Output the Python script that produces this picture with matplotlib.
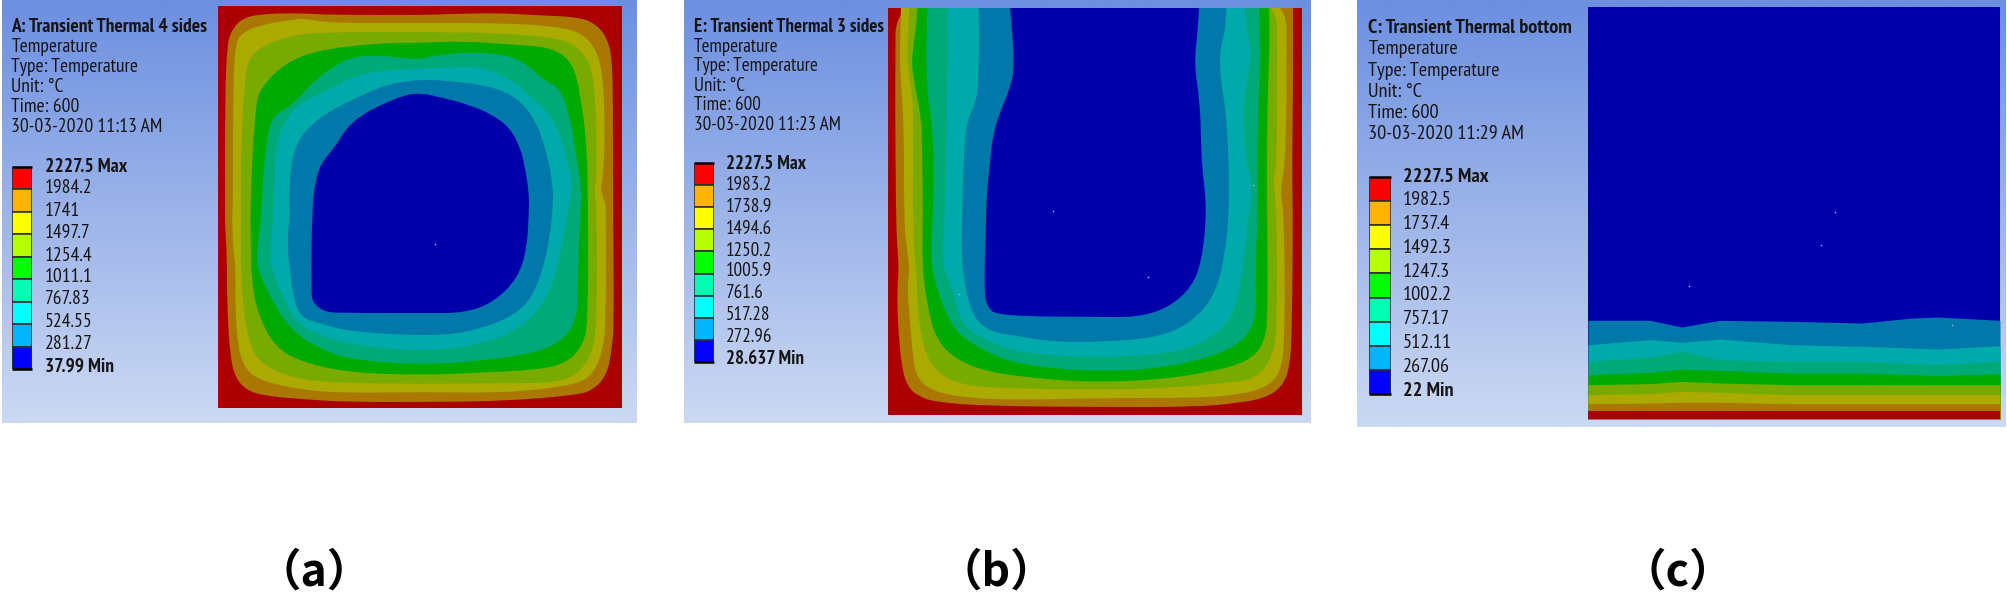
import numpy as np
import matplotlib
matplotlib.use("Agg")
import matplotlib.pyplot as plt
from matplotlib.path import Path
from matplotlib.patches import PathPatch

W, H = 2008, 598

# band colours on the model, outside to inside
band_colors = ['#aa0000', '#aa7800', '#aaaa00', '#78aa00', '#00aa00', '#00aa78', '#00aaaa', '#0078aa', '#0000aa']
# legend colours, top to bottom
legend_colors = ['#ff0000', '#ffb400', '#ffff00', '#b4ff00', '#00ff00', '#00ffb4', '#00ffff', '#00b4ff', '#0000ff']

labels_a = ['2227.5 Max', '1984.2', '1741', '1497.7', '1254.4', '1011.1', '767.83', '524.55', '281.27', '37.99 Min']
labels_b = ['2227.5 Max', '1983.2', '1738.9', '1494.6', '1250.2', '1005.9', '761.6', '517.28', '272.96', '28.637 Min']
labels_c = ['2227.5 Max', '1982.5', '1737.4', '1492.3', '1247.3', '1002.2', '757.17', '512.11', '267.06', '22 Min']

header_a = ['A: Transient Thermal 4 sides', 'Temperature', 'Type: Temperature', 'Unit: °C', 'Time: 600', '30-03-2020 11:13 AM']
header_b = ['E: Transient Thermal 3 sides', 'Temperature', 'Type: Temperature', 'Unit: °C', 'Time: 600', '30-03-2020 11:23 AM']
header_c = ['C: Transient Thermal bottom', 'Temperature', 'Type: Temperature', 'Unit: °C', 'Time: 600', '30-03-2020 11:29 AM']

captions = ['（a）', '（b）', '（c）']

# isotherm outlines, one closed outline per band
iso_a = [
    [(225,100),(225,210),(225,225),(227,258),(227,305),(230,355),(235,377),(246,390),(265,396),(301,399),(345,402),(428,402),(507,401),(577,395),(593,390),(607,375),(612,348),(614,322),(613,210),(613,100),(612,57),(607,38),(597,25),(580,17),(530,15),(500,13),(448,14),(428,15),(331,15),(298,13),(261,14),(243,18),(233,28),(227,43)],
    [(233,100),(233,210),(232,218),(233,248),(236,270),(235,305),(238,348),(245,368),(258,380),(301,390),(345,393),(420,392),(507,393),(577,385),(595,372),(603,348),(606,322),(606,205),(605,203),(600,187),(603,180),(605,133),(603,73),(595,47),(580,32),(553,26),(500,23),(420,23),(328,23),(308,19),(295,19),(261,25),(243,32),(235,43)],
    [(241,140),(241,210),(241,238),(241,272),(243,305),(250,348),(265,367),(301,380),(345,383),(420,384),(507,383),(553,383),(577,375),(592,355),(597,322),(597,210),(594,190),(596,180),(597,167),(595,77),(583,50),(560,38),(500,33),(428,32),(318,32),(285,37),(255,50),(246,67),(245,83)],
    [(250,210),(251,238),(251,278),(258,315),(275,347),(301,362),(351,373),(428,375),(470,373),(537,370),(567,363),(583,345),(588,322),(588,210),(587,143),(580,93),(573,63),(553,48),(520,45),(460,41),(420,43),(378,43),(318,50),(285,63),(261,87),(255,107)],
    [(261,210),(261,222),(256,255),(258,272),(278,312),(295,333),(318,348),(351,360),(428,365),(487,360),(540,352),(567,337),(577,315),(577,295),(580,210),(582,193),(577,160),(570,117),(560,88),(543,80),(530,67),(510,55),(470,52),(437,55),(420,59),(411,59),(378,55),(351,57),(331,68),(315,80),(290,107),(273,115),(266,140)],
    [(273,210),(273,222),(270,252),(271,268),(281,292),(295,322),(318,335),(351,345),(428,352),(487,343),(520,328),(543,305),(557,272),(568,210),(573,183),(567,160),(560,133),(547,110),(530,97),(513,80),(480,66),(447,68),(420,68),(378,71),(351,77),(325,92),(298,103),(281,127),(275,153)],
    [(289,210),(290,215),(287,242),(290,272),(293,295),(300,317),(318,323),(351,332),(428,336),(470,332),(510,318),(533,298),(547,255),(553,210),(553,187),(548,157),(537,123),(520,100),(497,88),(463,82),(420,79),(385,85),(358,97),(328,112),(311,125),(298,140),(290,167)],
    [(312,210),(311,292),(313,303),(325,312),(341,313),(428,313),(463,313),(493,303),(518,278),(527,248),(529,210),(529,193),(525,167),(520,147),(510,128),(493,115),(470,105),(440,97),(420,93),(405,95),(385,103),(361,115),(345,130),(335,147),(321,163),(315,183)],
]

# panel b outlines are open at the top edge
iso_b = [
    [(896,8),(895,97),(896,215),(897,243),(899,270),(897,290),(898,327),(902,370),(908,387),(918,396),(935,402),(985,406),(1100,407),(1195,407),(1238,403),(1265,398),(1282,387),(1290,367),(1292,327),(1293,210),(1292,177),(1293,90),(1293,33),(1293,8)],
    [(902,8),(900,47),(900,67),(902,97),(904,133),(904,215),(906,243),(910,270),(907,287),(910,320),(913,360),(918,380),(935,392),(968,398),(1018,400),(1100,398),(1195,398),(1238,395),(1268,387),(1282,370),(1285,327),(1284,215),(1280,190),(1285,167),(1287,83),(1286,8)],
    [(911,8),(908,33),(907,63),(913,97),(913,133),(913,215),(914,250),(917,277),(917,303),(922,343),(932,367),(952,382),(985,388),(1100,390),(1172,388),(1222,383),(1255,380),(1273,357),(1277,327),(1277,210),(1273,180),(1277,163),(1277,83),(1277,8)],
    [(919,8),(917,23),(911,60),(915,87),(921,117),(922,140),(923,215),(922,267),(927,303),(935,337),(952,357),(985,372),(1052,380),(1100,382),(1155,380),(1205,373),(1248,362),(1265,343),(1268,310),(1267,210),(1267,133),(1268,83),(1270,40),(1268,8)],
    [(930,8),(926,33),(927,93),(932,123),(934,167),(933,215),(930,260),(938,293),(948,317),(957,333),(982,350),(1018,365),(1100,372),(1172,367),(1222,353),(1248,337),(1257,310),(1255,277),(1258,210),(1257,133),(1260,67),(1260,43),(1258,8)],
    [(947,8),(948,40),(948,67),(946,100),(946,133),(945,215),(942,267),(952,287),(957,310),(965,327),(985,340),(1018,353),(1100,358),(1172,353),(1205,342),(1232,320),(1242,277),(1247,227),(1253,187),(1245,157),(1243,100),(1252,57),(1245,17),(1245,8)],
    [(975,8),(980,23),(978,83),(976,103),(967,120),(964,150),(962,215),(961,260),(968,303),(978,323),(995,333),(1013,335),(1052,342),(1100,342),(1155,338),(1188,325),(1212,300),(1223,267),(1230,210),(1227,117),(1220,77),(1220,47),(1226,30),(1227,8)],
    [(1007,8),(1013,43),(1014,62),(1012,83),(1002,107),(993,133),(990,163),(987,190),(986,215),(984,290),(987,307),(998,316),(1100,317),(1138,317),(1168,308),(1192,287),(1202,260),(1207,210),(1202,167),(1201,140),(1200,103),(1194,63),(1198,30),(1201,8)],
]

# panel c isotherms are nearly flat, heights at these stations
x_c = [567, 715, 790, 880, 1050, 1220, 1340, 1400, 1548]
iso_c = [
    [1235, 1235, 1235, 1235, 1235, 1235, 1235, 1235, 1235],
    [1212, 1210, 1208, 1208, 1212, 1212, 1212, 1212, 1212],
    [1185, 1182, 1175, 1178, 1185, 1185, 1185, 1185, 1185],
    [1155, 1152, 1145, 1150, 1155, 1155, 1155, 1155, 1155],
    [1125, 1118, 1108, 1112, 1120, 1120, 1125, 1128, 1122],
    [1085, 1072, 1055, 1080, 1085, 1085, 1092, 1095, 1085],
    [1035, 1020, 1028, 1018, 1035, 1040, 1045, 1048, 1038],
    [962, 962, 982, 962, 965, 970, 955, 952, 962],
]

specks_a = [(435, 244)]
specks_b = [(1053, 211), (1253, 185), (959, 294), (1148, 277)]
specks_c = [(1156, 638), (1121, 735), (808, 860), (1434, 975)]


def px_axes(fig, x0, y0, x1, y1):
    ax = fig.add_axes([x0 / W, 1 - y1 / H, (x1 - x0) / W, (y1 - y0) / H])
    ax.axis('off')
    return ax


def draw_background(fig, box):
    ax = px_axes(fig, *box)
    top = np.array([108, 143, 224]) / 255
    bottom = np.array([204, 217, 243]) / 255
    t = np.linspace(0, 1, 256)[:, None, None]
    ax.imshow(top + (bottom - top) * t, aspect='auto', interpolation='bilinear')


def smooth_patch(outline, color):
    # closed quadratic spline through the midpoints of the outline
    pts = np.array(outline, dtype=float)
    mids = (pts + np.roll(pts, -1, axis=0)) / 2
    verts = [mids[-1]]
    codes = [Path.MOVETO]
    for p, m in zip(pts, mids):
        verts += [p, m]
        codes += [Path.CURVE3, Path.CURVE3]
    return PathPatch(Path(verts, codes), facecolor=color, edgecolor='none', lw=0)


def draw_legend(fig, box, labels, label_x, label_ys, fs):
    ax = px_axes(fig, *box)
    n = len(legend_colors)
    for i, c in enumerate(legend_colors):
        ax.bar(0, 1, bottom=n - 1 - i, width=1, color=c, edgecolor='#303030', linewidth=1.2)
    ax.set_xlim(-0.5, 0.5)
    ax.set_ylim(0, n)
    ax.plot([-0.5, 0.5], [n, n], color='black', lw=1.8, clip_on=False, solid_capstyle='butt')
    ax.plot([-0.5, 0.5], [0, 0], color='black', lw=1.8, clip_on=False, solid_capstyle='butt')
    for i, (lab, y) in enumerate(zip(labels, label_ys)):
        bold = i in (0, len(labels) - 1)
        fig.text(label_x / W, 1 - y / H, lab, fontsize=fs, color='#151515', va='center',
                 fontweight='bold' if bold else 'normal')


def draw_header(fig, lines, x, ys, fs):
    for i, (line, y) in enumerate(zip(lines, ys)):
        fig.text(x / W, 1 - y / H, line, fontsize=fs, color='#151515', va='center',
                 fontweight='bold' if i == 0 else 'normal')


plt.rcParams['font.family'] = ['PT Sans Narrow', 'Liberation Sans', 'DejaVu Sans']
fig = plt.figure(figsize=(W / 100, H / 100), dpi=100, facecolor='white')

# panel a
draw_background(fig, (2, 0, 637, 423))
ax = px_axes(fig, 218, 6, 622, 408)
ax.set_xlim(218, 622)
ax.set_ylim(408, 6)
ax.fill([218, 622, 622, 218], [6, 6, 408, 408], color=band_colors[0], lw=0)
for outline, c in zip(iso_a, band_colors[1:]):
    ax.add_patch(smooth_patch(outline, c))
ax.scatter(*zip(*specks_a), s=1.5, color='#9fb4e8', lw=0)
draw_header(fig, header_a, 11.5, [27, 47, 67, 87, 107, 127], 14)
draw_legend(fig, (12, 167, 32, 369), labels_a, 45,
            [167, 188, 211, 233, 256, 277, 299, 322, 344, 367], 14)

# panel b
draw_background(fig, (684, 0, 1311, 423))
ax = px_axes(fig, 888, 8, 1302, 415)
ax.set_xlim(888, 1302)
ax.set_ylim(415, 8)
ax.fill([888, 1302, 1302, 888], [8, 8, 415, 415], color=band_colors[0], lw=0)
for outline, c in zip(iso_b, band_colors[1:]):
    # push the open ends past the top edge, the axes clip them
    ends = [(outline[0][0], -30)] + outline[1:-1] + [(outline[-1][0], -30)]
    ax.add_patch(smooth_patch(ends, c))
ax.scatter(*zip(*specks_b), s=1.5, color='#9fb4e8', lw=0)
draw_header(fig, header_b, 693.5, [27, 47, 66, 86, 105, 125], 13.7)
draw_legend(fig, (694, 163, 714, 362), labels_b, 726,
            [164, 185, 207, 229, 251, 271, 293, 315, 337, 359], 13.7)

# panel c
draw_background(fig, (1357, 0, 2006, 427))
ax = px_axes(fig, 1588, 7, 2000, 419)
ax.set_xlim(567, 1548)
ax.set_ylim(1258, 22)
ax.fill([567, 1548, 1548, 567], [1258, 1258, 22, 22], color=band_colors[-1], lw=0)
# deepest isotherm first so the hotter bands paint over it
for heights, c in zip(iso_c[::-1], band_colors[::-1][1:]):
    ax.fill_between(x_c, heights, 1258, color=c, lw=0)
ax.scatter(*zip(*specks_c), s=1.5, color='#9fb4e8', lw=0)
draw_header(fig, header_c, 1368.5, [28, 49, 71, 92, 113, 134], 14.6)
draw_legend(fig, (1369, 177, 1391, 394), labels_c, 1403,
            [177, 200, 224, 248, 272, 295, 319, 343, 367, 391], 14.6)

for cap, x in zip(captions, [314, 996, 1678]):
    fig.text(x / W, 1 - 573 / H, cap, fontsize=32, fontweight='bold', ha='center', va='center', color='black',
             family=['Noto Sans CJK SC', 'DejaVu Sans'])

fig.savefig('out.png', dpi=100)
